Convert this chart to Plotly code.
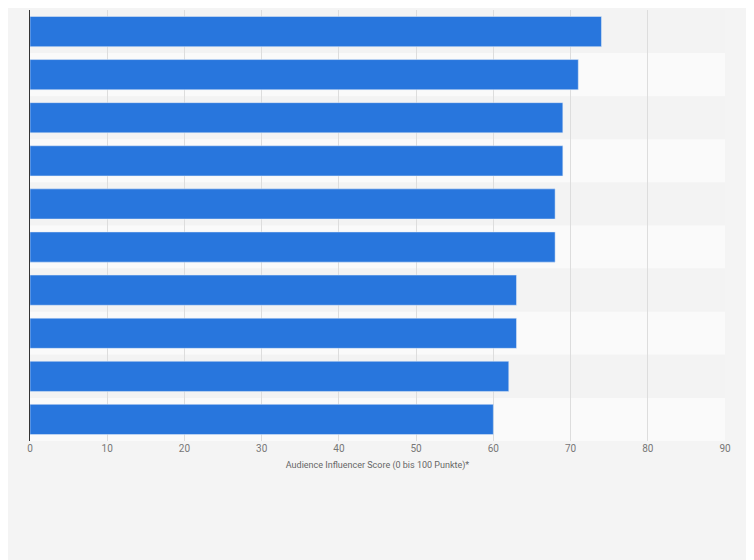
import plotly.graph_objects as go

positions = list(range(10))
scores = [74, 71, 69, 69, 68, 68, 63, 63, 62, 60]
x_ticks = [0, 10, 20, 30, 40, 50, 60, 70, 80, 90]

fig = go.Figure()
fig.add_trace(go.Bar(x=scores, y=positions, orientation='h', marker_color='#2876dd',
                     hoverinfo='x'))

# alternating row bands
for i in positions:
    fig.add_shape(type='rect', xref='paper', x0=0, x1=1, y0=i - 0.5, y1=i + 0.5,
                  fillcolor='#f3f3f3' if i % 2 == 0 else '#fafafa', line_width=0, layer='below')

fig.update_layout(
    width=754, height=560,
    margin=dict(l=22, r=37, t=2, b=127),
    paper_bgcolor='#f4f4f4', plot_bgcolor='#f4f4f4',
    bargap=0.3, showlegend=False,
    font=dict(family='Roboto, Arial', color='#777777'),
)
fig.update_xaxes(range=[0, 90], tickvals=x_ticks, showgrid=True, gridcolor='#dddddd',
                 zeroline=False, tickfont=dict(size=10),
                 title=dict(text='Audience Influencer Score (0 bis 100 Punkte)*',
                            font=dict(size=9, color='#666666'), standoff=8))
fig.update_yaxes(range=[-0.5, 9.5], autorange='reversed', showticklabels=False, showgrid=False,
                 showline=True, linecolor='#333333', linewidth=1, zeroline=False)

fig.write_html("out.html")
